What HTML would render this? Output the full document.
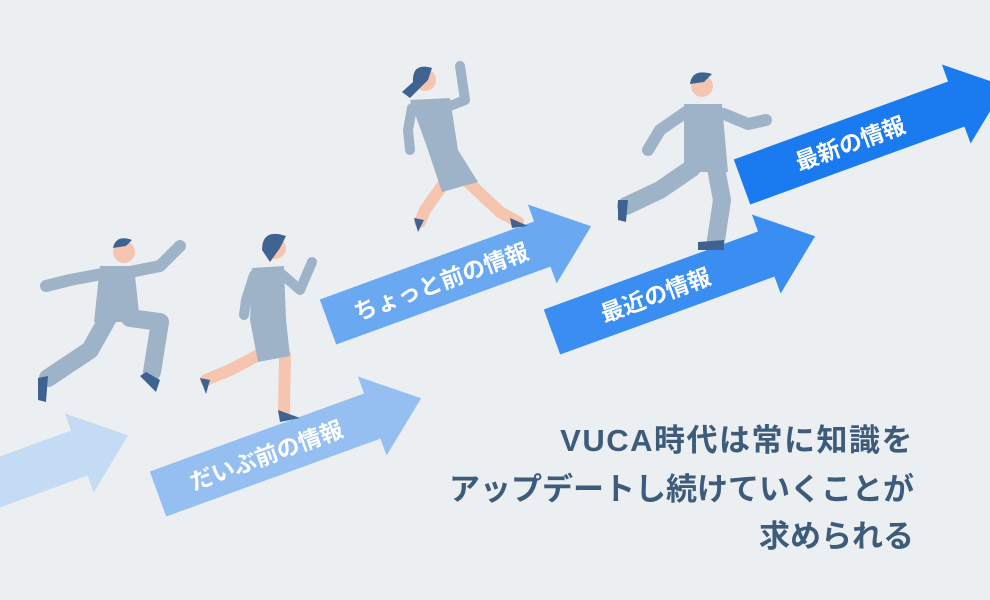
<!DOCTYPE html>
<html><head><meta charset="utf-8"><style>
html,body{margin:0;padding:0;background:#eceff1;}
svg{display:block;}
</style></head><body>
<svg width="990" height="600" viewBox="0 0 990 600" xmlns="http://www.w3.org/2000/svg">
<rect width="990" height="600" fill="#eceff1"/>
<defs>
<polygon id="ar" points="0,-24 228,-24 228,-42 280,0 228,42 228,24 0,24"/>
</defs>
<!-- arrows -->
<g transform="translate(-135,531) rotate(-20)"><use href="#ar" fill="#c4dbf4"/></g>
<g transform="translate(158,494) rotate(-20)"><use href="#ar" fill="#95bff0"/>
<text x="115" y="9" font-family="Liberation Sans,'Noto Sans CJK JP',sans-serif" font-size="23" font-weight="bold" fill="#fff" text-anchor="middle">だいぶ前の情報</text></g>
<g transform="translate(328,322) rotate(-20)"><use href="#ar" fill="#6aa9f2"/>
<text x="120" y="9" font-family="Liberation Sans,'Noto Sans CJK JP',sans-serif" font-size="23" font-weight="bold" fill="#fff" text-anchor="middle">ちょっと前の情報</text></g>
<g transform="translate(552,332) rotate(-20)"><use href="#ar" fill="#3a8ef2"/>
<text x="110" y="9" font-family="Liberation Sans,'Noto Sans CJK JP',sans-serif" font-size="23" font-weight="bold" fill="#fff" text-anchor="middle">最近の情報</text></g>
<g transform="translate(742,182) rotate(-20)"><use href="#ar" fill="#1a7aef"/>
<text x="115" y="9" font-family="Liberation Sans,'Noto Sans CJK JP',sans-serif" font-size="23" font-weight="bold" fill="#fff" text-anchor="middle">最新の情報</text></g>

<g stroke-linecap="round" stroke-linejoin="round" fill="none">
<!-- man 1 -->
<polyline points="102,274 70,280 46,286" stroke="#9fb3c8" stroke-width="12"/>
<polyline points="130,272 160,266 180,246" stroke="#9fb3c8" stroke-width="12"/>
<polyline points="108,318 90,350 48,378" stroke="#9fb3c8" stroke-width="18"/>
<polyline points="130,318 160,322 152,372" stroke="#9fb3c8" stroke-width="18"/>
<polygon points="100,266 134,266 140,322 94,322" fill="#9fb3c8"/>
<circle cx="124" cy="252" r="11" fill="#f6c5b0"/>
<path d="M113,248 Q116,234 132,240 L126,246 Z" fill="#3e6390"/>
<polygon points="38,378 48,376 46,402 38,400" fill="#3e6390"/>
<polygon points="146,372 160,380 156,392 140,376" fill="#3e6390"/>
<!-- woman 1 -->
<polyline points="254,275 246,300 244,315" stroke="#9fb3c8" stroke-width="10"/>
<polyline points="283,275 300,290 312,262" stroke="#9fb3c8" stroke-width="10"/>
<polyline points="268,350 230,370 206,380" stroke="#f6c5b0" stroke-width="12"/>
<polyline points="285,355 284,412" stroke="#f6c5b0" stroke-width="12"/>
<polygon points="252,268 284,266 286,320 290,356 258,362 250,320" fill="#9fb3c8"/>
<circle cx="275" cy="248" r="11" fill="#f6c5b0"/>
<path d="M262,250 Q262,228 286,236 L280,248 L270,262 Z" fill="#3e6390"/>
<polygon points="200,378 210,380 206,394" fill="#3e6390"/>
<polygon points="278,410 300,418 280,422" fill="#3e6390"/>
<!-- woman 2 -->
<polyline points="412,108 408,130 410,150" stroke="#9fb3c8" stroke-width="10"/>
<polyline points="450,106 465,100 460,66" stroke="#9fb3c8" stroke-width="10"/>
<polyline points="445,182 425,210 420,222" stroke="#f6c5b0" stroke-width="12"/>
<polyline points="468,182 500,212 518,222" stroke="#f6c5b0" stroke-width="12"/>
<polygon points="410,100 450,98 458,150 478,182 442,192 428,150" fill="#9fb3c8"/>
<circle cx="425" cy="80" r="11" fill="#f6c5b0"/>
<path d="M413,82 Q412,62 432,68 L428,80 L410,98 L402,92 Z" fill="#3e6390"/>
<polygon points="414,218 424,220 418,232" fill="#3e6390"/>
<polygon points="510,218 528,226 512,228" fill="#3e6390"/>
<!-- man 2 -->
<polyline points="686,112 660,130 648,150" stroke="#9fb3c8" stroke-width="12"/>
<polyline points="724,114 748,124 766,120" stroke="#9fb3c8" stroke-width="12"/>
<polyline points="692,168 660,190 626,206" stroke="#9fb3c8" stroke-width="18"/>
<polyline points="716,168 722,200 716,240" stroke="#9fb3c8" stroke-width="18"/>
<polygon points="684,104 722,104 728,172 684,172" fill="#9fb3c8"/>
<circle cx="702" cy="86" r="11" fill="#f6c5b0"/>
<path d="M690,84 Q692,68 712,74 L704,82 Z" fill="#3e6390"/>
<polygon points="618,200 628,200 626,222 618,220" fill="#3e6390"/>
<polygon points="698,242 724,240 724,250 698,250" fill="#3e6390"/>
</g>

<g font-family="Liberation Sans,'Noto Sans CJK JP',sans-serif" font-size="31" font-weight="bold" fill="#3d5c7c" text-anchor="end">
<text x="914" y="451" letter-spacing="1.5">VUCA時代は常に知識を</text>
<text x="914" y="500">アップデートし続けていくことが</text>
<text x="914" y="547">求められる</text>
</g>
</svg>
</body></html>
